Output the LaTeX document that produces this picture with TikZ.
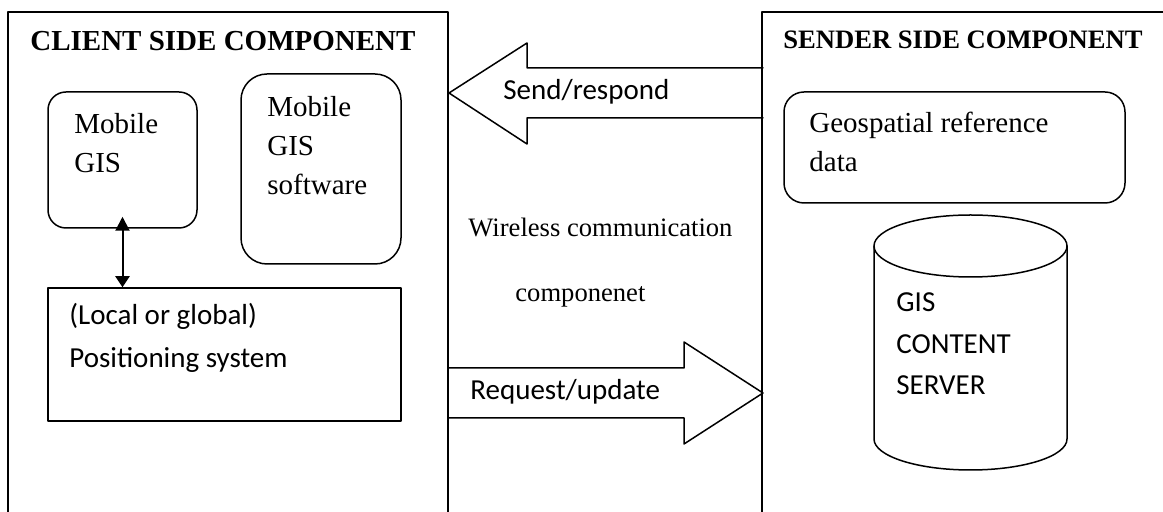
\documentclass[tikz,border=0pt]{standalone}
\usepackage{fontspec}
\setmainfont{Liberation Serif}
\newfontfamily\calfont{Carlito}
\usetikzlibrary{arrows.meta}

\tikzset{
  frame/.style={line width=0.75pt},
  roundbox/.style={draw,line width=0.75pt,rounded corners=9pt,inner sep=0pt},
  plainbox/.style={draw,line width=0.75pt,inner sep=0pt},
  serif/.style={font=\fontsize{14.5}{19.5}\selectfont,inner sep=0pt,anchor=base west,align=left},
  sans/.style={font=\calfont\fontsize{14.5}{21.5}\selectfont,inner sep=0pt,anchor=base west,align=left},
  title/.style={font=\bfseries\fontsize{14.5}{17}\selectfont,inner sep=0pt,anchor=base west},
}

\begin{document}
\begin{tikzpicture}[x=0.5pt,y=-0.5pt,line cap=round,line join=round]
  \useasboundingbox (0,0) rectangle (1163,512);

  % the two sides
  \draw[frame] (8,512) -- (8,12) -- (448,12) -- (448,512);
  \draw[frame] (762,512) -- (762,12) -- (1170,12);
  \node[title] (client) at (30,51) {CLIENT SIDE COMPONENT};
  \node[title,font=\bfseries\fontsize{13.3}{16}\selectfont] (sender) at (783,49) {SENDER SIDE COMPONENT};

  % client side (multi-line texts sit on the baseline of their last line)
  \node[roundbox,minimum width=74.5pt,minimum height=68pt] (mgis) at (122.5,160) {};
  \node[serif] (mgistext) at (74,173) {Mobile\\GIS};
  \node[roundbox,rounded corners=13pt,minimum width=80pt,minimum height=95pt] (mgsw) at (321,169) {};
  \node[serif] (mgswtext) at (267,195) {Mobile\\GIS\\software};
  \node[plainbox,minimum width=176.5pt,minimum height=66.5pt] (pos) at (224.5,354.5) {};
  \node[sans] (postext) at (69,368) {(Local or global)\\Positioning system};
  \draw[line width=1pt,{Triangle[width=7pt,length=7pt]}-{Triangle[width=7pt,length=5.5pt]}]
    ([yshift=6pt]mgis.south) -- (mgis.south |- pos.north);

  % wireless link
  \draw[frame] (763,68) -- (527,68) -- (527,43) -- (449,93) -- (527,144) -- (527,118) -- (763,118);
  \node[sans] (send) at (503,100) {Send/respond};
  \draw[frame] (449,368) -- (684,368) -- (684,342) -- (763,393) -- (684,444) -- (684,418) -- (449,418);
  \node[sans] (req) at (470,400) {Request/update};
  \node[serif,font=\fontsize{13.3}{16}\selectfont] (wl) at (468,237) {Wireless communication};
  \node[serif,font=\fontsize{13.3}{16}\selectfont] (wlc) at (515,302) {componenet};

  % sender side
  \node[roundbox,rounded corners=10pt,minimum width=170.5pt,minimum height=55.5pt] (geo) at (954.5,147.5) {};
  \node[serif] (geotext) at (809,172) {Geospatial reference\\data};
  \draw[frame] (970.5,246) ellipse [x radius=96.5,y radius=31];
  \draw[frame] (874,246) -- (874,439) arc [start angle=180,end angle=0,x radius=96.5,y radius=31] -- (1067,246);
  \node[sans,font=\calfont\fontsize{14.5}{20.75}\selectfont] (gis) at (896,395) {GIS\\CONTENT\\SERVER};
\end{tikzpicture}
\end{document}
